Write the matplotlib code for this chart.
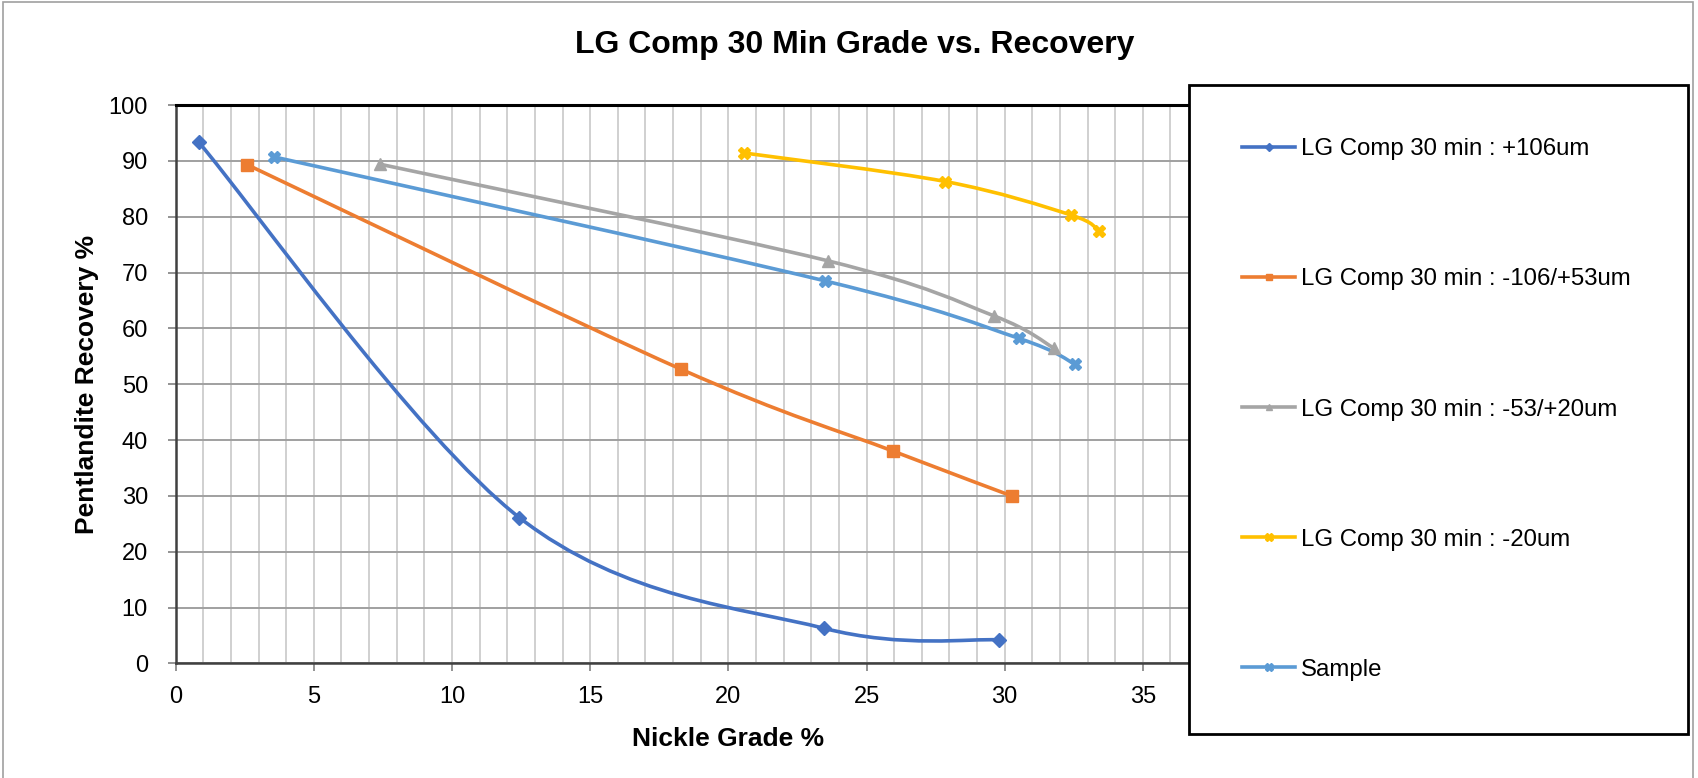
import numpy as np
import matplotlib.pyplot as plt
from matplotlib.path import Path
from matplotlib.patches import PathPatch, Rectangle
from matplotlib.lines import Line2D

plt.rcParams['font.family'] = ['Liberation Sans', 'DejaVu Sans']

# Nickle grade (%) and pentlandite recovery (%) for each size fraction
grade_p106 = [0.84, 12.44, 23.45, 29.79]
rec_p106 = [93.3, 26.1, 6.3, 4.2]

grade_m106_p53 = [2.59, 18.28, 25.97, 30.25]
rec_m106_p53 = [89.3, 52.7, 38.0, 30.0]

grade_m53_p20 = [7.39, 23.6, 29.63, 31.77]
rec_m53_p20 = [89.4, 72.1, 62.2, 56.5]

grade_m20 = [20.58, 27.85, 32.4, 33.4]
rec_m20 = [91.4, 86.3, 80.3, 77.5]

grade_sample = [3.56, 23.5, 30.52, 32.54]
rec_sample = [90.7, 68.5, 58.2, 53.6]

labels = ['LG Comp 30 min : +106um', 'LG Comp 30 min : -106/+53um',
          'LG Comp 30 min : -53/+20um', 'LG Comp 30 min : -20um', 'Sample']
colors = ['#4472C4', '#ED7D31', '#A5A5A5', '#FFC000', '#5B9BD5']
markers = ['D', 's', '^', 'X', 'X']
msizes = [7, 8, 8, 9, 9]

series = [(grade_p106, rec_p106), (grade_m106_p53, rec_m106_p53),
          (grade_m53_p20, rec_m53_p20), (grade_m20, rec_m20),
          (grade_sample, rec_sample)]


def smooth_path(x, y, t=1/6):
    # Excel style smoothed line: cubic bezier through the points
    p = np.column_stack([x, y]).astype(float)
    ext = np.vstack([p[0], p, p[-1]])
    verts = [p[0]]
    codes = [Path.MOVETO]
    for i in range(len(p) - 1):
        c1 = ext[i + 1] + (ext[i + 2] - ext[i]) * t
        c2 = ext[i + 2] - (ext[i + 3] - ext[i + 1]) * t
        verts += [c1, c2, ext[i + 2]]
        codes += [Path.CURVE4] * 3
    return Path(verts, codes)


W, H = 1698, 778
fig = plt.figure(figsize=(W / 100, H / 100), dpi=100)
ax = fig.add_axes([175.7 / W, 1 - 663.4 / H, (1281 - 175.7) / W, (663.4 - 105) / H])

for (x, y), c, m, ms in zip(series, colors, markers, msizes):
    ax.add_patch(PathPatch(smooth_path(x, y), fill=False, edgecolor=c, lw=2.6,
                           capstyle='round', zorder=3))
    ax.plot(x, y, linestyle='none', marker=m, ms=ms, color=c, zorder=4)

ax.set_xlim(0, 40)
ax.set_ylim(0, 100)
ax.set_xticks(np.arange(0, 41, 5))
ax.set_xticks(np.arange(0, 41, 1), minor=True)
ax.set_yticks(np.arange(0, 101, 10))
ax.grid(which='minor', axis='x', color='#c8c8c8', lw=1.2)
ax.grid(which='major', axis='x', color='#c8c8c8', lw=1.2)
ax.grid(which='major', axis='y', color='#a0a0a0', lw=1.4)
ax.set_axisbelow(True)
ax.tick_params(which='minor', length=0)
ax.tick_params(which='major', direction='out', length=6, width=1.2, color='#808080',
               labelsize=17)
ax.tick_params(axis='x', pad=10)
ax.tick_params(axis='y', pad=14)

for s in ['left', 'bottom']:
    ax.spines[s].set_color('#404040')
    ax.spines[s].set_linewidth(1.8)
ax.spines['top'].set_color('black')
ax.spines['top'].set_linewidth(2.2)

ax.set_xlabel('Nickle Grade %', fontsize=19, fontweight='bold', labelpad=14)
ax.set_ylabel('Pentlandite Recovery %', fontsize=19, fontweight='bold', labelpad=7)
fig.text(855 / W, 1 - 45 / H, 'LG Comp 30 Min Grade vs. Recovery', fontsize=23,
         fontweight='bold', ha='center', va='center')

handles = [Line2D([], [], color=c, lw=2.6, marker=m, ms=ms * 0.6)
           for c, m, ms in zip(colors, markers, msizes)]
leg = ax.legend(handles, labels, loc='upper left', mode='expand',
                bbox_to_anchor=(1189 / W, 1 - 85 / H - 0.1, (1688 - 1189) / W, 0.1),
                bbox_transform=fig.transFigure, borderaxespad=0, fontsize=17.3,
                frameon=True, fancybox=False, framealpha=1, edgecolor='black',
                borderpad=2.22, labelspacing=4.5, handlelength=2.2, handletextpad=0.25)
leg.get_frame().set_linewidth(2)

# outer chart border
fig.add_artist(Rectangle((3 / W, -0.1), (1693 - 3) / W, 1.1 - 2 / H, transform=fig.transFigure,
                         fill=False, edgecolor='#a0a0a0', lw=1.2))

fig.savefig('out.png', dpi=100)
